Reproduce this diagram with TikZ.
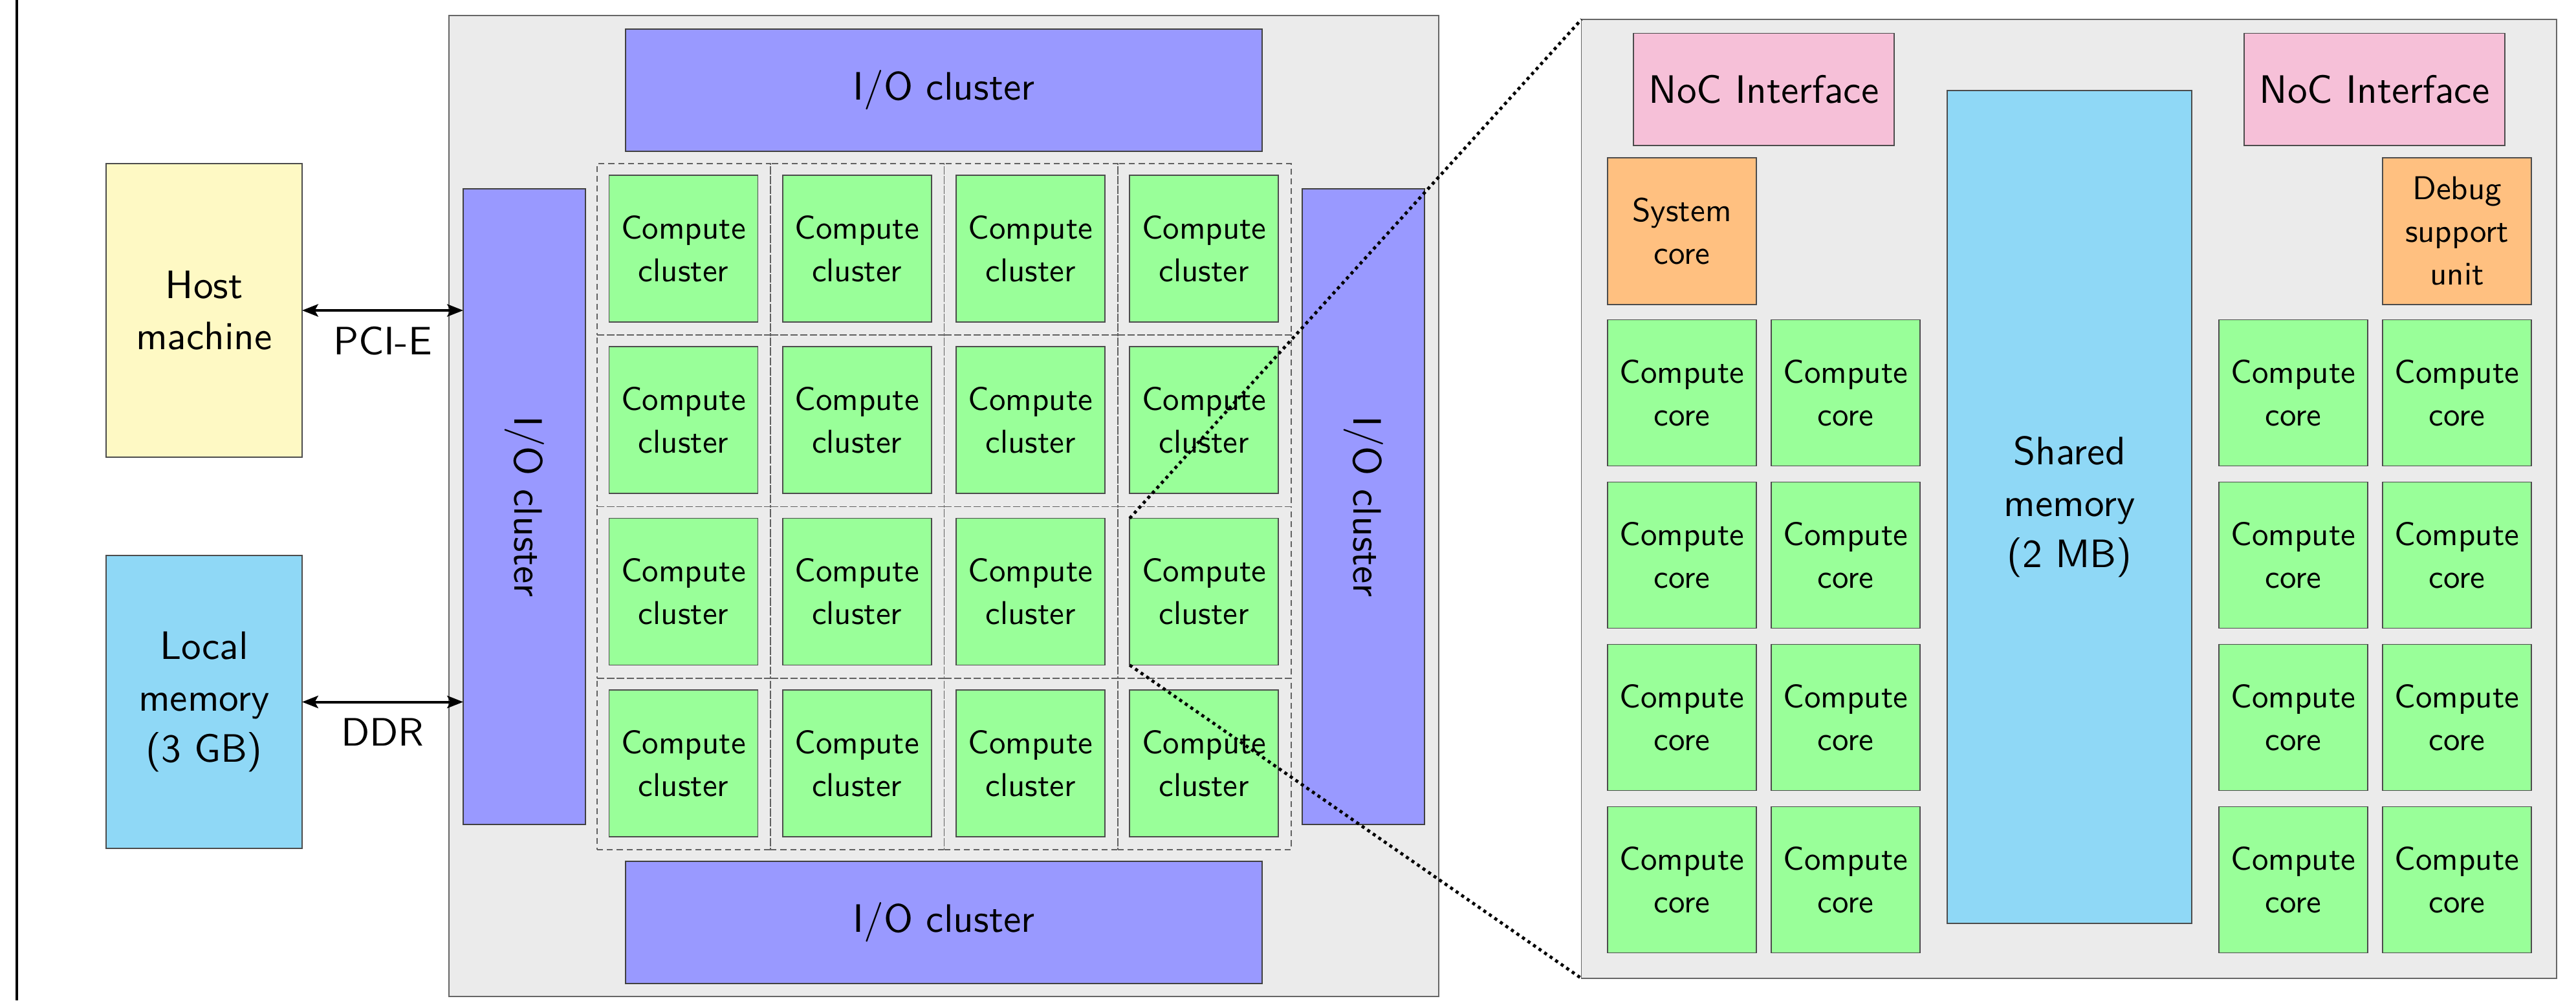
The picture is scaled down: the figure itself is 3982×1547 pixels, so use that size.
\documentclass[tikz,border=0pt]{standalone}
\usepackage{fontspec}
\newfontfamily\lmsf{lmsans10-regular.otf}
\usetikzlibrary{arrows.meta}
\definecolor{panelgray}{RGB}{235,235,235}
\definecolor{hostcol}{RGB}{254,249,196}
\definecolor{memcol}{RGB}{143,216,246}
\definecolor{iocol}{RGB}{153,153,255}
\definecolor{compcol}{RGB}{153,255,153}
\definecolor{noccol}{RGB}{246,192,216}
\definecolor{syscol}{RGB}{255,192,128}
\tikzset{
  base/.style={draw=black!70, line width=0.4pt, inner sep=0pt, outer sep=0pt, align=center},
  txtS/.style={font=\lmsf\fontsize{12.75pt}{16.5pt}\selectfont},
  txtL/.style={font=\lmsf\fontsize{15.33pt}{19.9pt}\selectfont},
  panelst/.style={base, draw=black!60, fill=panelgray},
  iost/.style={base, draw=black!75, fill=iocol, txtL},
  compst/.style={base, fill=compcol, txtS},
  hostst/.style={base, fill=hostcol, txtL},
  memst/.style={base, fill=memcol, txtL},
  nocst/.style={base, fill=noccol, txtL},
  sysst/.style={base, fill=syscol, txtS},
  cellst/.style={draw=black!62, line width=0.42pt, dash pattern=on 2.3pt off 1.5pt, inner sep=0pt, outer sep=0pt},
  linkst/.style={line width=1pt, {Stealth[length=6.2pt,width=4.8pt,inset=1.3pt]}-{Stealth[length=6.2pt,width=4.8pt,inset=1.3pt]}},
  lblst/.style={txtL, inner sep=0pt},
  dotline/.style={black, line width=1.2pt, dash pattern=on 1.2pt off 1.4pt},
  rottxt/.style={txtL, rotate=-90, inner sep=0pt}
}
\newcommand\mkbox[7]{\node[#2, minimum width={((#5)-(#3))*0.25pt}, minimum height={((#6)-(#4))*0.25pt}] (#1) at ({((#3)+(#5))/2},{((#4)+(#6))/2}) {#7};}
\begin{document}
\begin{tikzpicture}[x=0.25pt,y=-0.25pt]
\useasboundingbox (0,0) rectangle (3982,1547);
% left border line
\coordinate (lt) at (25.5,0);
\coordinate (lb) at (25.5,1547);
\draw[line width=1pt] (lt) -- (lb);
% host side
\mkbox{host}{hostst}{164}{253}{467}{707}{Host\\machine}
\mkbox{locmem}{memst}{164}{859}{467}{1312}{Local\\memory\\(3 GB)}
% chip
\mkbox{chip}{panelst}{694}{24}{2224}{1541}{}
\mkbox{iotop}{iost}{967}{45}{1951}{234}{I/O cluster}
\mkbox{iobot}{iost}{967}{1332}{1951}{1521}{I/O cluster}
\mkbox{ioleft}{iost}{716}{292}{905}{1275}{}
\mkbox{ioright}{iost}{2013}{292}{2202}{1275}{}
\node[rottxt] (iolefttxt) at (ioleft.center) {I/O cluster};
\node[rottxt] (iorighttxt) at (ioright.center) {I/O cluster};
\foreach \r in {0,...,3}{
  \foreach \c in {0,...,3}{
    \mkbox{cell\r\c}{cellst}{923+\c*268.25}{253+\r*265.25}{923+(\c+1)*268.25}{253+(\r+1)*265.25}{}
    \mkbox{cc\r\c}{compst}{941.5+\c*268.25}{271+\r*265.25}{1171.5+\c*268.25}{498+\r*265.25}{Compute\\cluster}
  }
}
% links
\draw[linkst] (host.east) -- (host.east -| ioleft.west) node[lblst, midway, yshift=-11.75pt] (pcie) {PCI-E};
\draw[linkst] (locmem.east) -- (locmem.east -| ioleft.west) node[lblst, midway, yshift=-11.75pt] (ddr) {DDR};
% zoomed cluster panel
\mkbox{panel}{panelst}{2444.6}{30}{3952}{1513}{}
\mkbox{nocl}{nocst}{2525}{51.5}{2928}{225}{NoC Interface}
\mkbox{nocr}{nocst}{3469}{51.5}{3872}{225}{NoC Interface}
\mkbox{syscore}{sysst}{2485}{244}{2715}{471}{System\\core}
\mkbox{debug}{sysst}{3683}{244}{3913}{471}{Debug\\support\\unit}
\mkbox{shmem}{memst}{3010}{140}{3388}{1428}{Shared\\memory\\(2 MB)}
\foreach \x [count=\i] in {2485,2738,3430,3683}{
  \foreach \y [count=\j] in {494.6,745.6,996.6,1247.6}{
    \mkbox{core\i\j}{compst}{\x}{\y}{\x+230}{\y+226}{Compute\\core}
  }
}
% zoom lines
\draw[dotline] (cc23.north west) -- (panel.north west);
\draw[dotline] (cc23.south west) -- (panel.south west);
\end{tikzpicture}
\end{document}
